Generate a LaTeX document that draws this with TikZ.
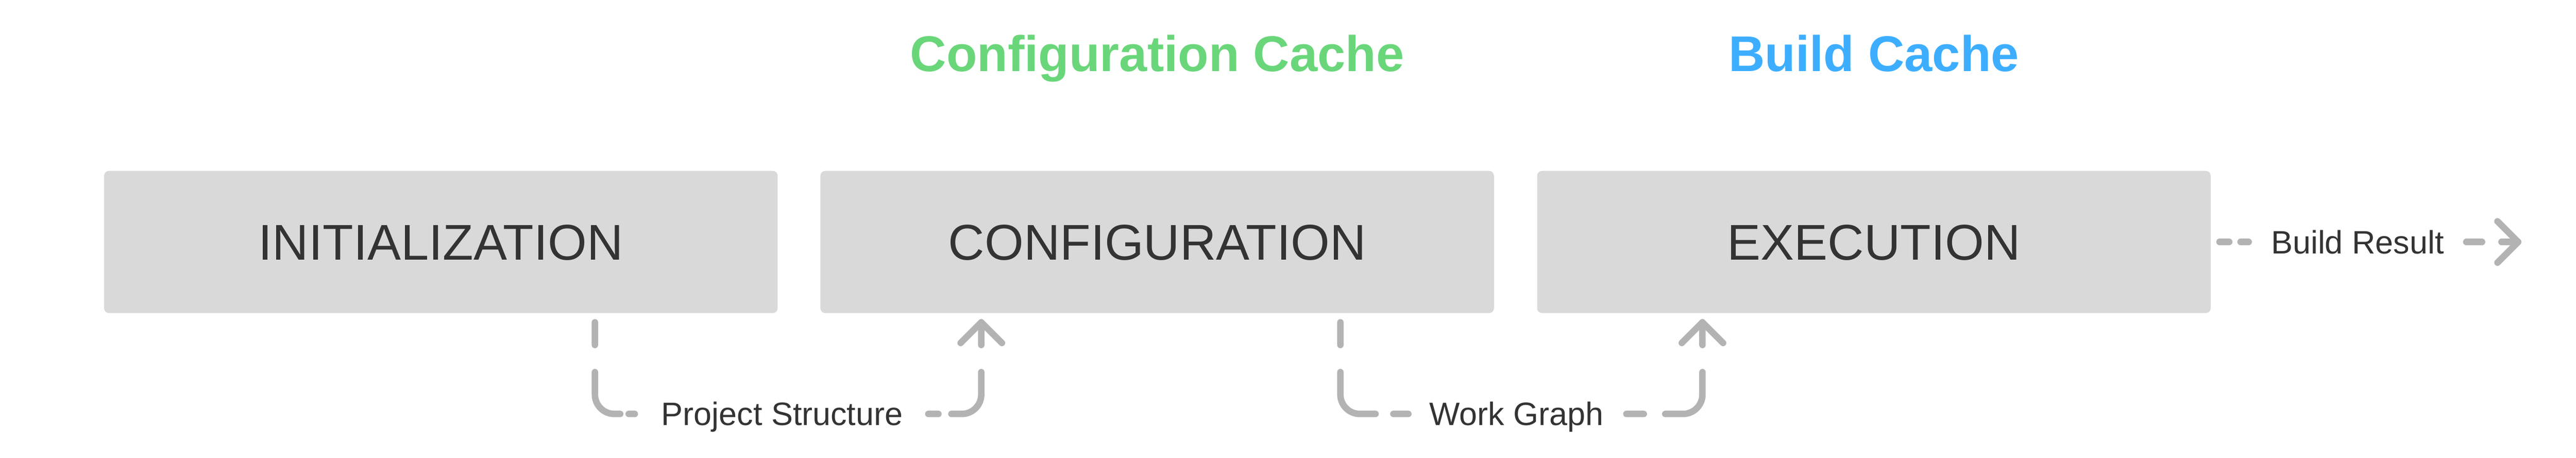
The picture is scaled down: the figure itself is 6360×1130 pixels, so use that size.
\documentclass[tikz,border=0pt]{standalone}
\usepackage{fontspec}
\setmainfont{Liberation Sans}
\usetikzlibrary{calc}
\definecolor{boxfill}{HTML}{D9D9D9}
\definecolor{txtcol}{HTML}{333333}
\definecolor{conncol}{HTML}{B3B3B3}
\definecolor{cgreen}{HTML}{6AD67A}
\definecolor{cblue}{HTML}{3DAEFF}
\begin{document}
\begin{tikzpicture}[x=0.25pt,y=-0.25pt,
  stage/.style={fill=boxfill, rounded corners=3pt, minimum width=415.75pt, minimum height=87.75pt,
    inner sep=0pt, text=txtcol, font=\fontsize{31pt}{31pt}\selectfont, text height=22.2pt, text depth=0pt},
  lbl/.style={inner sep=0pt, text=txtcol, font=\fontsize{20pt}{20pt}\selectfont, text height=14.32pt, text depth=0pt},
  title/.style={inner sep=0pt, font=\bfseries\fontsize{31pt}{31pt}\selectfont, text height=22.2pt, text depth=0pt},
  conn/.style={draw=conncol, line width=4pt, line cap=round, line join=round, rounded corners=12pt},
  chev/.style={draw=conncol, line width=4pt, line cap=round, line join=round},
]
\useasboundingbox (0,0) rectangle (6360,1130);

% stages
\node[stage] (init) at (1088.5,597.5) {INITIALIZATION};
\node[stage] (conf) at (2857,597.5) {CONFIGURATION};
\node[stage] (exec) at (4626.5,597.5) {EXECUTION};

% titles
\node[title, text=cgreen] (cc) at (2857,132) {Configuration Cache};
\node[title, text=cblue] (bc) at (4626.5,132) {Build Cache};

% labels
\node[lbl] (ps) at (1931,1022) {Project Structure};
\node[lbl] (wg) at (3744,1022) {Work Graph};
\node[lbl] (br) at (5820.5,597.5) {Build Result};

% connector anchors
\coordinate (psA) at ($(init.south east)+(-452,22)$);
\coordinate (psB) at ($(conf.south west)+(398,22)$);
\coordinate (wgA) at ($(conf.south east)+(-380,22)$);
\coordinate (wgB) at ($(exec.south west)+(409,22)$);
\coordinate (brA) at ($(exec.east)+(21,0)$);
\coordinate (brT) at (6217,597.5);
\coordinate (brS) at ($(brT)+(-128,0)$);

% Project Structure
\draw[conn, dash pattern=on 14pt off 16.75pt on 36.25pt off 5.25pt on 3.75pt off 750pt] (psA) |- (ps.west);
\draw[conn, dash pattern=on 14pt off 16.75pt on 39.1pt off 8pt on 6.25pt off 750pt] (psB) |- (ps.east);
\draw[chev] ($(psB)+(-51,51)$) -- (psB) -- ($(psB)+(51,51)$);

% Work Graph
\draw[conn, dash pattern=on 14pt off 16.75pt on 42.35pt off 11pt on 9.25pt off 750pt] (wgA) |- (wg.west);
\draw[conn, dash pattern=on 14pt off 16.75pt on 43.6pt off 13.25pt on 10.75pt off 750pt] (wgB) |- (wg.east);
\draw[chev] ($(wgB)+(-51,51)$) -- (wgB) -- ($(wgB)+(51,51)$);

% Build Result
\draw[conn, dash pattern=on 6pt off 7pt on 5pt off 750pt] (brA) -- (br.west);
\draw[conn, dash pattern=on 9.75pt off 12pt on 10.25pt off 750pt] (brS) -- (brT);
\draw[chev] ($(brT)+(-51,-51)$) -- (brT) -- ($(brT)+(-51,51)$);
\end{tikzpicture}
\end{document}
